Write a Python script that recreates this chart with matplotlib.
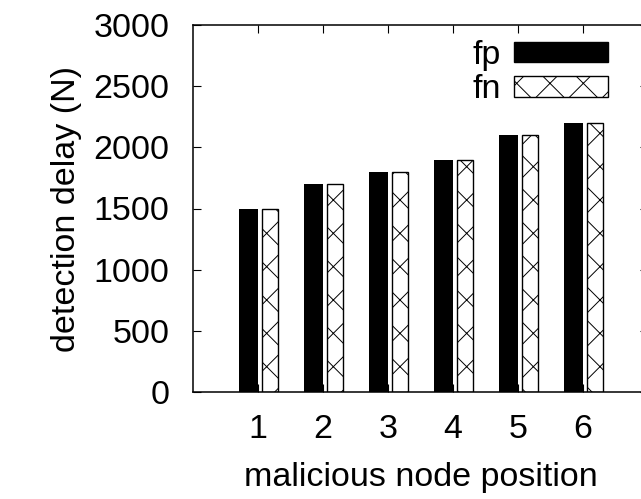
import matplotlib
matplotlib.use("Agg")
import matplotlib.pyplot as plt
from matplotlib.patches import Patch

# detection delay per malicious node position
positions = [1, 2, 3, 4, 5, 6]
fp_delay = [1500, 1700, 1800, 1900, 2100, 2200]
fn_delay = [1500, 1700, 1800, 1900, 2100, 2200]
y_ticks = [0, 500, 1000, 1500, 2000, 2500, 3000]

plt.rcParams["font.family"] = ["Liberation Sans", "DejaVu Sans"]
plt.rcParams["font.size"] = 24.5
plt.rcParams["hatch.linewidth"] = 0.7

fig = plt.figure(figsize=(6.41, 4.99), dpi=100)
ax = fig.add_axes([193 / 641, 107 / 499, 455 / 641, 367 / 499])

ax.bar([p - 0.285 for p in positions], fp_delay, width=0.29, align="edge",
       color="black", edgecolor="black", linewidth=0, label="fp")
ax.bar([p + 0.055 for p in positions], fn_delay, width=0.255, align="edge",
       color="white", edgecolor="black", linewidth=1.0, hatch="x", label="fn")

ax.set_xlim(0, 7)
ax.set_ylim(0, 3000)
ax.set_xticks(positions)
ax.set_xticklabels([str(p) for p in positions])
ax.set_yticks(y_ticks)

for s in ax.spines.values():
    s.set_linewidth(1.1)
ax.tick_params(axis="both", direction="in", top=True, right=True,
               length=6, width=0.8)
ax.tick_params(axis="x", pad=16)
ax.tick_params(axis="y", pad=17)

ax.set_xlabel("malicious node position", labelpad=12)
ax.set_ylabel("detection delay (N)", labelpad=8)

handles = [Patch(facecolor="black", edgecolor="black", label="fp"),
           Patch(facecolor="white", edgecolor="black", hatch="x", label="fn")]
ax.legend(handles=handles, loc="upper right", bbox_to_anchor=(608 / 641, 1 - 40 / 499),
          bbox_transform=fig.transFigure, frameon=False, markerfirst=False,
          handlelength=2.75, handleheight=0.55, handletextpad=0.4,
          labelspacing=0.1, borderaxespad=0, borderpad=0)

fig.savefig("out.png", dpi=100)
